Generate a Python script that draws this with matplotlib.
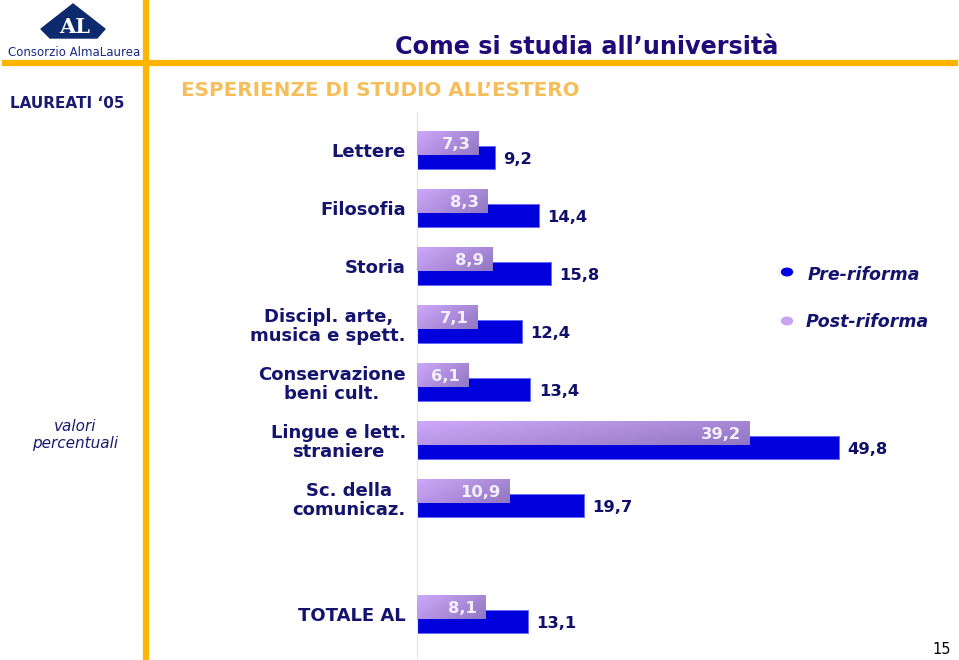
import numpy as np
import matplotlib
matplotlib.use("Agg")
import matplotlib.pyplot as plt
from matplotlib.patches import Polygon, Circle
from matplotlib.colors import to_rgb

#--------------------------Dati--------------------------------------------
categorie = ['Lettere', 'Filosofia', 'Storia', 'Discipl. arte,\nmusica e spett.',
             'Conservazione\nbeni cult.', 'Lingue e lett.\nstraniere',
             'Sc. della\ncomunicaz.', 'TOTALE AL']
pre_riforma = [9.2, 14.4, 15.8, 12.4, 13.4, 49.8, 19.7, 13.1]
post_riforma = [7.3, 8.3, 8.9, 7.1, 6.1, 39.2, 10.9, 8.1]
#------------------------------------------------------------------------------

W, H = 959, 660
NAVY = '#14146e'
ORANGE = '#FFB400'

def px(x, y):
    return x / W, 1 - y / H

fig = plt.figure(figsize=(W / 100, H / 100), dpi=100)

#---------------------------Intestazione---------------------------------------
fig.add_artist(plt.Line2D([5 / W, 955 / W], [1 - 63 / H] * 2, color=ORANGE, lw=4.5))
fig.add_artist(plt.Line2D([146 / W] * 2, [1 - 0 / H, 1 - 658 / H], color=ORANGE, lw=4.5))

logo = [(73, 4), (41, 29), (50, 38), (97, 38), (105, 29)]
fig.add_artist(Polygon([px(a, b) for a, b in logo], closed=True,
                       transform=fig.transFigure, color='#0d2a6e'))
fig.text(*px(75, 27), 'AL', color='white', family='DejaVu Serif', weight='bold',
         fontsize=15, ha='center', va='center')
fig.text(*px(74, 52), 'Consorzio AlmaLaurea', color='#1a2a80', fontsize=8.5,
         ha='center', va='center')
fig.text(*px(10, 104), 'LAUREATI \u201805', color='#1a1a70', weight='bold',
         fontsize=11, ha='left', va='center')
fig.text(*px(395, 47), 'Come si studia all\u2019universit\u00e0', color='#1e0a78',
         weight='bold', fontsize=17.2, ha='left', va='center')
fig.text(*px(181, 91), 'ESPERIENZE DI STUDIO ALL\u2019ESTERO', color='#F5BE5A',
         weight='bold', fontsize=14.3, ha='left', va='center')
fig.text(*px(75, 435), 'valori\npercentuali', color='#1a1a70', style='italic',
         fontsize=11, ha='center', va='center', linespacing=1.1)
fig.text(*px(942, 650), '15', color='black', fontsize=10.5, ha='center', va='center')

# legenda
fig.add_artist(Circle(px(787, 272), 5.5 / W, transform=fig.transFigure, color='#0000e6'))
fig.add_artist(Circle(px(787, 321), 5.5 / W, transform=fig.transFigure, color='#c7a3f2'))
fig.text(*px(808, 275), 'Pre-riforma', color=NAVY, weight='bold', style='italic',
         fontsize=12.5, ha='left', va='center')
fig.text(*px(806, 322), 'Post-riforma', color=NAVY, weight='bold', style='italic',
         fontsize=12.5, ha='left', va='center')

#---------------------------Grafico---------------------------------------------
ax = fig.add_axes([417 / W, 1 - 658 / H, (W - 417) / W, (658 - 112) / H])
pos = np.arange(len(categorie), dtype=float)
pos[-1] += 1
h = 0.40
off = 0.25

bars_pre = ax.barh(pos, pre_riforma, height=h, color='#0000dc',
                   edgecolor='#6a6aff', lw=0.7, zorder=2)
bars_post = ax.barh(pos - off, post_riforma, height=h + 0.02, color='none',
                    edgecolor='none', zorder=3)

c1 = np.array(to_rgb('#cfa8fb'))
c2 = np.array(to_rgb('#9177c2'))
gx, gy = np.meshgrid(np.linspace(0, 1, 64), np.linspace(0, 1, 16))
t = 0.65 * gx + 0.35 * gy
grad = c1[None, None, :] * (1 - t[..., None]) + c2[None, None, :] * t[..., None]
for b in bars_post:
    x0, y0 = b.get_x(), b.get_y()
    im = ax.imshow(grad, extent=(x0, x0 + b.get_width(), y0 + b.get_height(), y0),
                   aspect='auto', zorder=3, interpolation='bilinear')
    im.set_clip_path(b)

for p, v in zip(pos, pre_riforma):
    ax.text(v + 1.0, p + 0.03, f'{v:.1f}'.replace('.', ','), color='#10106a',
            weight='bold', fontsize=11.8, ha='left', va='center')
for p, v in zip(pos, post_riforma):
    ax.text(v - 1.0, p - off + 0.03, f'{v:.1f}'.replace('.', ','), color='#f4efff',
            weight='bold', fontsize=11.8, ha='right', va='center', zorder=4)

ax.set_yticks(pos - 0.13)
ax.set_yticklabels(categorie, color=NAVY, weight='bold', fontsize=13,
                   multialignment='center', linespacing=1.05)
ax.tick_params(axis='y', length=0, pad=8)
ax.set_xticks([])
ax.set_xlim(0, (W - 417) / 8.47)
ax.set_ylim((658 - 157.5) / 58, (112 - 157.5) / 58)
for s in ['top', 'right', 'bottom']:
    ax.spines[s].set_visible(False)
ax.spines['left'].set_color('#e4e4ee')
ax.patch.set_alpha(0)

fig.savefig('out.png', dpi=100)
